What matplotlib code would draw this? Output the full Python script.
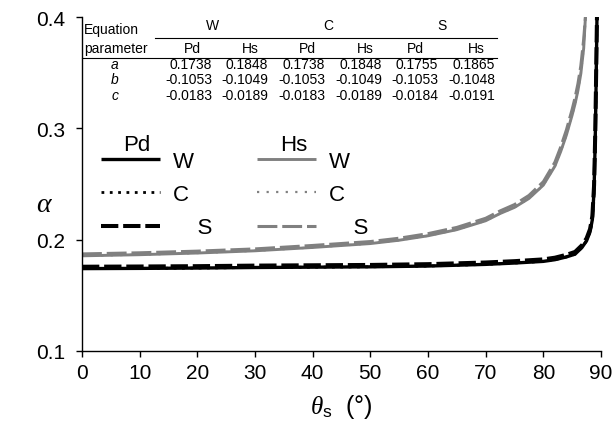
import matplotlib
matplotlib.use("Agg")
import matplotlib.pyplot as plt

plt.rcParams['font.family'] = ['Liberation Sans', 'DejaVu Sans']
plt.rcParams['mathtext.fontset'] = 'custom'
plt.rcParams['mathtext.it'] = 'Liberation Serif:italic'
plt.rcParams['mathtext.rm'] = 'Liberation Sans'

# values
theta_pd = [0, 10, 20, 30, 40, 50, 60, 70, 75, 80, 82, 84, 85.5, 86.7, 87.5, 88.1, 88.5, 88.8, 89.0, 89.15, 89.3]
pd_w = [0.1740, 0.1742, 0.1745, 0.1750, 0.1753, 0.1756, 0.1763, 0.1778, 0.1790, 0.1805, 0.1820, 0.1845, 0.1870,
        0.1930, 0.1990, 0.2070, 0.2180, 0.2450, 0.2900, 0.3400, 0.4000]
pd_c = [0.1740, 0.1742, 0.1745, 0.1750, 0.1753, 0.1756, 0.1763, 0.1778, 0.1790, 0.1805, 0.1820, 0.1845, 0.1870,
        0.1930, 0.1990, 0.2070, 0.2180, 0.2450, 0.2900, 0.3400, 0.4000]
pd_s = [0.1757, 0.1759, 0.1762, 0.1767, 0.1770, 0.1773, 0.1780, 0.1795, 0.1807, 0.1823, 0.1838, 0.1864, 0.1890,
        0.1950, 0.2012, 0.2095, 0.2210, 0.2490, 0.2950, 0.3460, 0.4000]

theta_hs = [0, 10, 20, 30, 40, 50, 55, 60, 65, 70, 72.5, 75, 77.5, 80, 82, 83, 84, 85, 85.5, 86, 86.5, 87, 87.3]
hs_w = [0.1855, 0.1865, 0.1880, 0.1900, 0.1930, 0.1965, 0.1995, 0.2035, 0.2090, 0.2170, 0.2235, 0.2290, 0.2370,
        0.2490, 0.2660, 0.2790, 0.2940, 0.3120, 0.3220, 0.3340, 0.3490, 0.3720, 0.4000]
hs_c = [0.1855, 0.1865, 0.1880, 0.1900, 0.1930, 0.1965, 0.1995, 0.2035, 0.2090, 0.2170, 0.2235, 0.2290, 0.2370,
        0.2490, 0.2660, 0.2790, 0.2940, 0.3120, 0.3220, 0.3340, 0.3490, 0.3720, 0.4000]
hs_s = [0.1872, 0.1882, 0.1897, 0.1917, 0.1948, 0.1983, 0.2013, 0.2054, 0.2110, 0.2192, 0.2258, 0.2315, 0.2397,
        0.2520, 0.2695, 0.2830, 0.2985, 0.3170, 0.3275, 0.3400, 0.3560, 0.3800, 0.4000]

# table of equation parameters
groups = ['W', 'C', 'S']
methods = ['Pd', 'Hs', 'Pd', 'Hs', 'Pd', 'Hs']
param_names = ['a', 'b', 'c']
param_a = ['0.1738', '0.1848', '0.1738', '0.1848', '0.1755', '0.1865']
param_b = ['-0.1053', '-0.1049', '-0.1053', '-0.1049', '-0.1053', '-0.1048']
param_c = ['-0.0183', '-0.0189', '-0.0183', '-0.0189', '-0.0184', '-0.0191']

gray = '#808080'

fig = plt.figure(figsize=(6.15, 4.35), dpi=100)
ax = fig.add_axes([82/615, 1-352/435, 519/615, 334/435])

l_hw, = ax.plot(theta_hs, hs_w, color=gray, lw=2.1, solid_capstyle='butt')
l_hc, = ax.plot(theta_hs, hs_c, color=gray, lw=1.6, ls=(0, (1, 3.3)))
l_hs, = ax.plot(theta_hs, hs_s, color=gray, lw=2.2, ls=(0, (6.5, 1.6)))
l_pw, = ax.plot(theta_pd, pd_w, color='black', lw=2.4, solid_capstyle='butt')
l_pc, = ax.plot(theta_pd, pd_c, color='black', lw=2.0, ls=(0, (1, 2)))
l_ps, = ax.plot(theta_pd, pd_s, color='black', lw=2.9, ls=(0, (4.3, 1.2)))

ax.set_xlim(0, 90)
ax.set_ylim(0.1, 0.4)
ax.set_xticks(range(0, 91, 10))
ax.set_yticks([0.1, 0.2, 0.3, 0.4])
ax.set_yticklabels(['0.1', '0.2', '0.3', '0.4'])
for s in ['top', 'right']:
    ax.spines[s].set_visible(False)
for s in ['left', 'bottom']:
    ax.spines[s].set_linewidth(1.0)
ax.tick_params(axis='y', direction='out', length=4, width=1, labelsize=15, pad=8)
ax.tick_params(axis='x', direction='out', length=4, width=1, labelsize=15, pad=5)
ax.set_ylabel(r'$\alpha$', fontsize=20, rotation=0, va='center', ha='center')
ax.yaxis.set_label_coords(-0.072, 0.44)
ax.set_xlabel(r'$\theta_{\mathrm{s}}$  (°)', fontsize=18, labelpad=7)

# legends
leg_kw = dict(loc='upper left', frameon=False, fontsize=16, handlelength=2.66,
              handletextpad=0.58, labelspacing=0.56, borderpad=0, borderaxespad=0)
leg1 = ax.legend([l_pw, l_pc, l_ps], ['W', 'C', '    S'], bbox_to_anchor=(0.0366, 0.600), **leg_kw)
ax.add_artist(leg1)
ax.legend([l_hw, l_hc, l_hs], ['W', 'C', '    S'], bbox_to_anchor=(0.337, 0.600), **leg_kw)
ax.text(0.106, 0.618, 'Pd', transform=ax.transAxes, fontsize=16, ha='center', va='center')
ax.text(0.408, 0.618, 'Hs', transform=ax.transAxes, fontsize=16, ha='center', va='center')

# parameter table
def fx(px):
    return (px - 82) / 519

def fy(py):
    return (352 - py) / 334

tfs = 10
ax.text(fx(84), fy(34), 'Equation', transform=ax.transAxes, fontsize=tfs, va='baseline')
ax.text(fx(84), fy(53), 'parameter', transform=ax.transAxes, fontsize=tfs, va='baseline')
for g, px in zip(groups, [213, 328, 442]):
    ax.text(fx(px), fy(30), g, transform=ax.transAxes, fontsize=tfs, ha='center', va='baseline')
for m, px in zip(methods, [192, 250, 307, 365, 415, 476]):
    ax.text(fx(px), fy(53), m, transform=ax.transAxes, fontsize=tfs, ha='center', va='baseline')
ax.plot([fx(155), fx(497)], [fy(39), fy(39)], transform=ax.transAxes, color='black', lw=0.8, clip_on=False)
ax.plot([fx(82), fx(497)], [fy(59), fy(59)], transform=ax.transAxes, color='black', lw=0.8, clip_on=False)
right_edges = [212, 268, 325, 382, 438, 495]
for name, vals, py in zip(param_names, [param_a, param_b, param_c], [69, 84, 100]):
    ax.text(fx(115), fy(py), name, transform=ax.transAxes, fontsize=tfs, ha='center', va='baseline', style='italic')
    for v, px in zip(vals, right_edges):
        ax.text(fx(px), fy(py), v, transform=ax.transAxes, fontsize=tfs, ha='right', va='baseline')

fig.savefig('out.png', dpi=100)
